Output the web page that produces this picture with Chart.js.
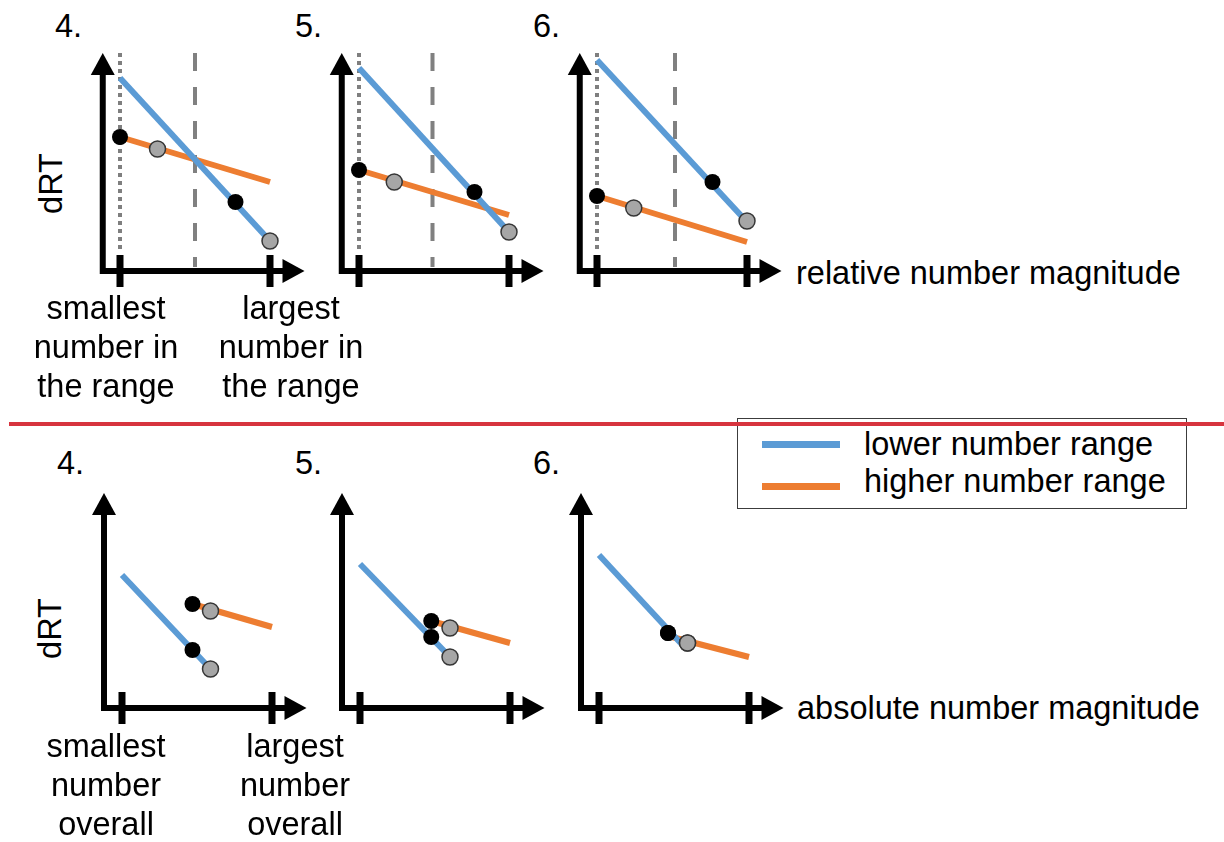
<!DOCTYPE html>
<html>
<head>
<meta charset="utf-8">
<script src="https://cdn.jsdelivr.net/npm/chart.js@4.4.0/dist/chart.umd.min.js"></script>
<style>
    body { margin: 0; background: #fff; }
    #page { position: relative; width: 1224px; height: 842px; overflow: hidden; font-family: "Liberation Sans", Arial, sans-serif; font-size: 32.5px; color: #000; }
    .txt { position: absolute; line-height: 39px; white-space: nowrap; }
    .lbl { position: absolute; width: 200px; text-align: center; line-height: 39px; white-space: nowrap; }
    .drt { position: absolute; width: 80px; text-align: center; line-height: 39px; transform: rotate(-90deg); }
    canvas { position: absolute; }
    #legendBox { position: absolute; left: 737px; top: 418px; width: 450px; height: 91px; box-sizing: border-box; border: 1.5px solid #3c3c3c; }
    .swatch { position: absolute; left: 762px; width: 78px; height: 7px; }
    #redLine { position: absolute; left: 9px; top: 422px; width: 1215px; height: 4px; background: #d7343e; }
</style>
</head>
<body>
<div id="page">
    <div class="txt" style="left:55px; top:7px;">4.</div>
    <div class="txt" style="left:295px; top:7px;">5.</div>
    <div class="txt" style="left:533px; top:7px;">6.</div>
    <div class="drt" style="left:11px; top:164px;">dRT</div>

    <canvas id="rel4" width="225" height="254" style="left:90px; top:41px;"></canvas>
    <canvas id="rel5" width="225" height="254" style="left:329px; top:41px;"></canvas>
    <canvas id="rel6" width="225" height="254" style="left:567px; top:41px;"></canvas>

    <div class="txt" style="left:796px; top:254px;">relative number magnitude</div>
    <div class="lbl" style="left:6px; top:289px;">smallest<br>number in<br>the range</div>
    <div class="lbl" style="left:191px; top:289px;">largest<br>number in<br>the range</div>

    <div id="legendBox"></div>
    <div class="swatch" style="top:441px; background:#5b9bd5;"></div>
    <div class="swatch" style="top:483px; background:#ed7d31;"></div>
    <div class="txt" style="left:864px; top:425px;">lower number range</div>
    <div class="txt" style="left:864px; top:462px;">higher number range</div>
    <div id="redLine"></div>

    <div class="txt" style="left:57px; top:444px;">4.</div>
    <div class="txt" style="left:295px; top:444px;">5.</div>
    <div class="txt" style="left:533px; top:444px;">6.</div>
    <div class="drt" style="left:10px; top:609px;">dRT</div>

    <canvas id="abs4" width="225" height="254" style="left:92px; top:478px;"></canvas>
    <canvas id="abs5" width="225" height="254" style="left:330px; top:478px;"></canvas>
    <canvas id="abs6" width="225" height="254" style="left:569px; top:478px;"></canvas>

    <div class="txt" style="left:797px; top:689px;">absolute number magnitude</div>
    <div class="lbl" style="left:6px; top:727px;">smallest<br>number<br>overall</div>
    <div class="lbl" style="left:195px; top:727px;">largest<br>number<br>overall</div>
</div>

<script>
// x: 0 = smallest number, 1 = largest number ; y: dRT (arbitrary units)
const tickValues = [0, 1];
const midpointX = [0.5, 0.49, 0.52];

// top row: relative number magnitude (panels 4, 5, 6)
const relBlueLine = [[{ x: 0, y: 9.65 }, { x: 1, y: 1.5 }], [{ x: 0, y: 10.15 }, { x: 1, y: 1.95 }], [{ x: 0, y: 10.55 }, { x: 1, y: 2.45 }]];
const relBlueBlack = [{ x: 0.77, y: 3.45 }, { x: 0.77, y: 3.95 }, { x: 0.77, y: 4.45 }];
const relBlueGray = [{ x: 1, y: 1.5 }, { x: 1, y: 1.95 }, { x: 1, y: 2.5 }];
const relOrangeLine = [[{ x: 0, y: 6.7 }, { x: 1, y: 4.45 }], [{ x: 0, y: 5.05 }, { x: 1, y: 2.8 }], [{ x: 0, y: 3.75 }, { x: 1, y: 1.45 }]];
const relOrangeBlack = [{ x: 0, y: 6.7 }, { x: 0, y: 5.05 }, { x: 0, y: 3.75 }];
const relOrangeGray = [{ x: 0.25, y: 6.1 }, { x: 0.235, y: 4.45 }, { x: 0.245, y: 3.15 }];

// bottom row: absolute number magnitude (panels 4, 5, 6)
const absBlueLine = [[{ x: 0, y: 6.65 }, { x: 0.59, y: 1.95 }], [{ x: 0, y: 7.2 }, { x: 0.6, y: 2.55 }], [{ x: 0, y: 7.65 }, { x: 0.55, y: 3.2 }]];
const absBlueBlack = [{ x: 0.47, y: 2.9 }, { x: 0.475, y: 3.55 }, { x: 0.46, y: 3.75 }];
const absBlueGray = [{ x: 0.59, y: 1.95 }, { x: 0.6, y: 2.55 }, { x: 0.59, y: 3.25 }];
const absOrangeLine = [[{ x: 0.47, y: 5.2 }, { x: 1, y: 4.05 }], [{ x: 0.475, y: 4.35 }, { x: 1, y: 3.25 }], [{ x: 0.46, y: 3.6 }, { x: 1, y: 2.55 }]];
const absOrangeBlack = [{ x: 0.47, y: 5.2 }, { x: 0.475, y: 4.35 }, { x: 0.46, y: 3.75 }];
const absOrangeGray = [{ x: 0.59, y: 4.85 }, { x: 0.6, y: 4.0 }, { x: 0.59, y: 3.25 }];

const arrowAxes = {
    id: 'arrowAxes',
    beforeDatasetsDraw(chart, args, opts) {
        const ctx = chart.ctx;
        const xs = chart.scales.x;
        const ys = chart.scales.y;
        const x0 = xs.getPixelForValue(opts.originX);
        const y0 = ys.getPixelForValue(0);
        const yTip = ys.getPixelForValue(opts.yTip);
        const xTip = xs.getPixelForValue(opts.xTip);

        ctx.save();
        ctx.strokeStyle = '#000';
        ctx.fillStyle = '#000';
        ctx.lineWidth = 6;
        ctx.lineJoin = 'miter';
        ctx.lineCap = 'butt';
        ctx.beginPath();
        ctx.moveTo(x0, yTip + 18);
        ctx.lineTo(x0, y0);
        ctx.lineTo(xTip - 18, y0);
        ctx.stroke();

        ctx.beginPath();
        ctx.moveTo(x0, yTip);
        ctx.lineTo(x0 - 12, yTip + 22);
        ctx.lineTo(x0 + 12, yTip + 22);
        ctx.closePath();
        ctx.fill();

        ctx.beginPath();
        ctx.moveTo(xTip, y0);
        ctx.lineTo(xTip - 22, y0 - 12);
        ctx.lineTo(xTip - 22, y0 + 12);
        ctx.closePath();
        ctx.fill();

        ctx.lineWidth = 7;
        ctx.beginPath();
        for (const t of tickValues) {
            const tx = xs.getPixelForValue(t);
            ctx.moveTo(tx, y0 - 16);
            ctx.lineTo(tx, y0 + 16);
        }
        ctx.stroke();
        ctx.restore();
    }
};

function lineDataset(points, color, order) {
    return {
        data: points,
        showLine: true,
        borderColor: color,
        borderWidth: 6,
        borderCapStyle: 'butt',
        pointRadius: 0,
        order: order
    };
}

function pointDataset(points, fill, border, order) {
    return {
        data: points,
        showLine: false,
        pointRadius: 8,
        pointHoverRadius: 8,
        backgroundColor: fill,
        borderColor: border,
        borderWidth: border ? 1.5 : 0,
        order: order
    };
}

function plotPanel(canvasId, i, row) {
    const datasets = [];

    if (row.guides) {
        datasets.push({
            data: [{ x: 0, y: row.yTip }, { x: 0, y: 0.9 }],
            showLine: true, borderColor: '#7f7f7f', borderWidth: 4, borderDash: [4, 4], pointRadius: 0, order: 6
        });
        datasets.push({
            data: [{ x: midpointX[i], y: row.yTip }, { x: midpointX[i], y: 0.2 }],
            showLine: true, borderColor: '#808080', borderWidth: 4, borderDash: [18, 16], pointRadius: 0, order: 6
        });
    }

    datasets.push(lineDataset(row.orangeLine[i], '#ed7d31', 5));
    datasets.push(lineDataset(row.blueLine[i], '#5b9bd5', 4));
    datasets.push(pointDataset([row.blueBlack[i], row.orangeBlack[i]], '#000000', null, 2));
    datasets.push(pointDataset([row.blueGray[i], row.orangeGray[i]], '#a6a6a6', '#363636', 1));

    new Chart(document.getElementById(canvasId), {
        type: 'scatter',
        data: { datasets: datasets },
        options: {
            responsive: false,
            animation: false,
            devicePixelRatio: 1,
            layout: { padding: 0, autoPadding: false },
            events: [],
            scales: {
                x: { type: 'linear', display: false, min: -0.2, max: 1.3 },
                y: { type: 'linear', display: false, min: -1.2, max: 11.5 }
            },
            plugins: {
                legend: { display: false },
                tooltip: { enabled: false },
                arrowAxes: { originX: row.originX, yTip: row.yTip, xTip: 1.23 }
            }
        },
        plugins: [arrowAxes]
    });
}

const relRow = {
    guides: true, originX: -0.115, yTip: 10.9,
    blueLine: relBlueLine, blueBlack: relBlueBlack, blueGray: relBlueGray,
    orangeLine: relOrangeLine, orangeBlack: relOrangeBlack, orangeGray: relOrangeGray
};
const absRow = {
    guides: false, originX: -0.12, yTip: 10.75,
    blueLine: absBlueLine, blueBlack: absBlueBlack, blueGray: absBlueGray,
    orangeLine: absOrangeLine, orangeBlack: absOrangeBlack, orangeGray: absOrangeGray
};

['rel4', 'rel5', 'rel6'].forEach(function (id, i) { plotPanel(id, i, relRow); });
['abs4', 'abs5', 'abs6'].forEach(function (id, i) { plotPanel(id, i, absRow); });
</script>
</body>
</html>
